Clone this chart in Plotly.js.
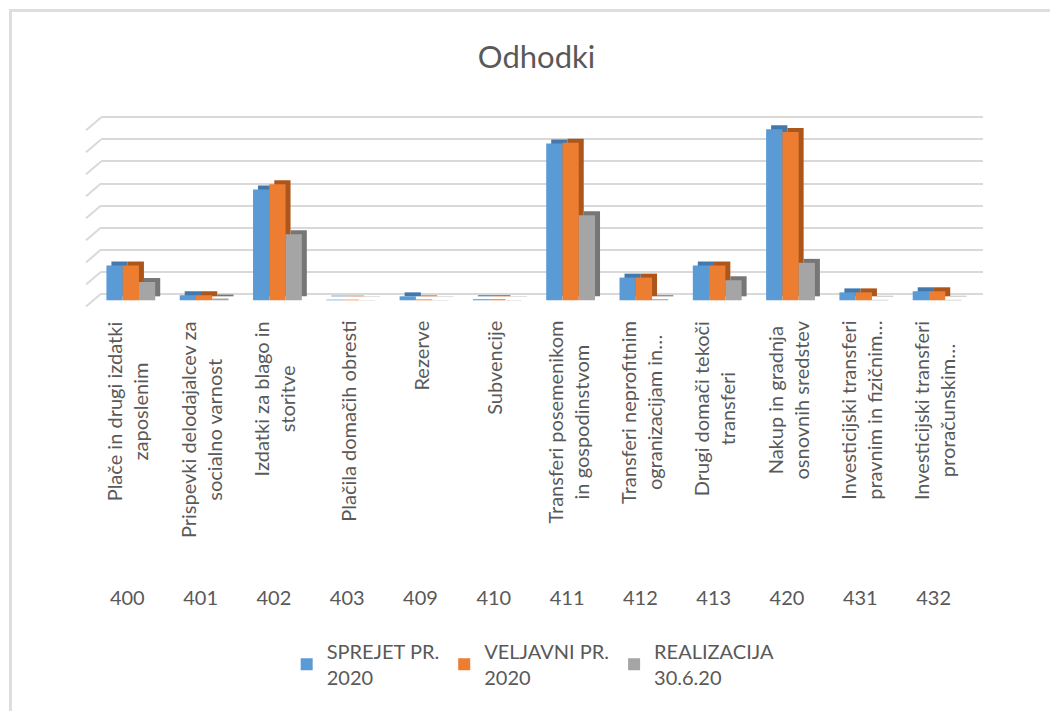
<!DOCTYPE html>
<html>
<head>
<meta charset="utf-8">
<script src="https://cdn.plot.ly/plotly-3.0.1.min.js"></script>
<style>
  html, body { margin: 0; padding: 0; background: #fff; }
  #chart { width: 1050px; height: 711px; }
  #frame { position: absolute; left: 9px; top: 9px; width: 1100px; height: 800px;
           border-left: 3px solid #dedede; border-top: 3px solid #dedede; pointer-events: none; }
</style>
</head>
<body>
<div id="chart"></div>
<div id="frame"></div>
<script>
// ---- data (values in gridline units) ----
const codes = ['400','401','402','403','409','410','411','412','413','420','431','432'];
const names = [
  'Plače in drugi izdatki<br>zaposlenim',
  'Prispevki delodajalcev za<br>socialno varnost',
  'Izdatki za blago in<br>storitve',
  'Plačila domačih obresti',
  'Rezerve',
  'Subvencije',
  'Transferi posemenikom<br>in gospodinstvom',
  'Transferi neprofitnim<br>ogranizacijam in…',
  'Drugi domači tekoči<br>transferi',
  'Nakup in gradnja<br>osnovnih sredstev',
  'Investicijski transferi<br>pravnim in fizičnim…',
  'Investicijski transferi<br>proračunskim…'
];
const seriesNames = ['SPREJET PR.<br>2020', 'VELJAVNI PR.<br>2020', 'REALIZACIJA<br>30.6.20'];
const sprejet     = [1.58, 0.23, 5.03, 0.03, 0.18, 0.05, 7.12, 1.03, 1.58, 7.76, 0.36, 0.41];
const veljavni    = [1.58, 0.23, 5.27, 0.03, 0.04, 0.05, 7.15, 1.03, 1.58, 7.64, 0.36, 0.41];
const realizacija = [0.83, 0.08, 3.00, 0.01, 0.01, 0.01, 3.86, 0.05, 0.91, 1.70, 0.02, 0.02];

// ---- style ----
const FONT = 'Lato, "Open Sans", sans-serif';
const TXT = '#595959';
const front = ['#5b9bd5', '#ed7d31', '#a5a5a5'];
const side  = ['#4478ad', '#ad561c', '#767676'];
const barW = 0.222;
const offs = [-0.285, -0.063, 0.159];
const depthX = 0.068, depthY = 0.18;
const values = [sprejet, veljavni, realizacija];

const traces = [];
values.forEach((vals, s) => {
  traces.push({
    type: 'bar', x: codes, y: vals, base: depthY,
    offset: offs[s] + depthX, width: barW,
    marker: { color: side[s], line: { width: 0 } },
    showlegend: false, hoverinfo: 'skip'
  });
  traces.push({
    type: 'bar', x: codes, y: vals, name: seriesNames[s],
    offset: offs[s], width: barW,
    marker: { color: front[s], line: { width: 0 } }
  });
});

const gridVals = [];
for (let k = 0; k <= 8; k++) gridVals.push(0.3 + k);
const shapes = gridVals.map(g => ({
  type: 'line', xref: 'paper', yref: 'y',
  x0: 0, x1: -0.017, y0: g, y1: g - 0.58,
  line: { color: '#d9d9d9', width: 2 }
}));

// category labels: placed at each category's index on the category axis
const annotations = names.map((n, i) => ({
  text: n, x: i, xref: 'x', y: 0, yref: 'paper',
  xanchor: 'center', yanchor: 'top', yshift: -11,
  textangle: -90, align: 'center', showarrow: false,
  font: { family: FONT, size: 20, color: TXT }
}));

const layout = {
  width: 1050, height: 711,
  paper_bgcolor: '#fff', plot_bgcolor: 'rgba(0,0,0,0)',
  margin: { l: 101, r: 67, t: 113, b: 403.3, autoexpand: false },
  title: { text: 'Odhodki', x: 0.511, xref: 'container', y: 0.92, yref: 'container',
           xanchor: 'center', yanchor: 'middle',
           font: { family: FONT, size: 31, color: TXT } },
  barmode: 'overlay',
  xaxis: {
    type: 'category', range: [-0.359, 11.674],
    showgrid: false, zeroline: false, showline: false, ticks: '',
    ticklabelstandoff: 276,
    tickfont: { family: FONT, size: 20, color: TXT }, fixedrange: true
  },
  yaxis: {
    range: [-0.35, 8.5], tick0: 0.3, dtick: 1, showticklabels: false,
    showgrid: true, gridcolor: '#d9d9d9', gridwidth: 2,
    zeroline: false, showline: false, ticks: '', fixedrange: true
  },
  legend: {
    orientation: 'h', x: 0.49, xanchor: 'center', y: -1.66, yanchor: 'top',
    font: { family: FONT, size: 20, color: TXT }, itemclick: false, itemwidth: 30
  },
  shapes: shapes,
  annotations: annotations,
  showlegend: true
};

Plotly.newPlot('chart', traces, layout, { displayModeBar: false, staticPlot: true });
</script>
</body>
</html>
